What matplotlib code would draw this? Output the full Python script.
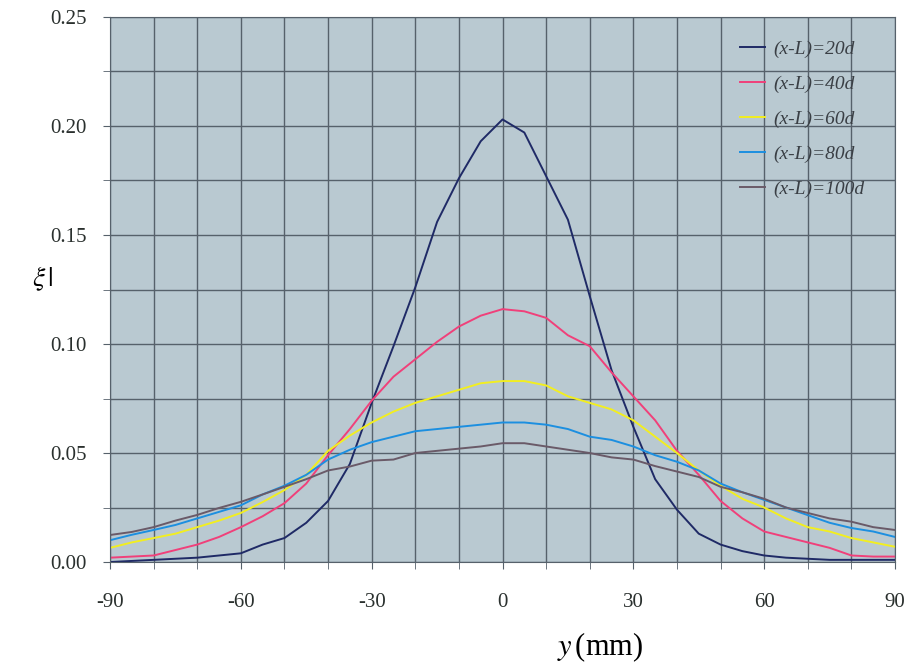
import numpy as np
import matplotlib.pyplot as plt

plt.rcParams['mathtext.fontset'] = 'stix'
plt.rcParams['axes.unicode_minus'] = False

y_mm = np.arange(-90, 95, 5)

xi_20d = [0.000, 0.0005, 0.001, 0.0015, 0.002, 0.003, 0.004, 0.008, 0.011, 0.018,
          0.028, 0.045, 0.073, 0.099, 0.126, 0.156, 0.176, 0.193, 0.203, 0.197,
          0.177, 0.157, 0.122, 0.088, 0.062, 0.038, 0.024, 0.013, 0.008, 0.005,
          0.003, 0.002, 0.0015, 0.001, 0.001, 0.001, 0.001]
xi_40d = [0.002, 0.0025, 0.003, 0.0055, 0.008, 0.0115, 0.016, 0.021, 0.027, 0.036,
          0.049, 0.061, 0.074, 0.085, 0.093, 0.101, 0.108, 0.113, 0.116, 0.115,
          0.112, 0.104, 0.099, 0.087, 0.076, 0.065, 0.051, 0.040, 0.028, 0.020,
          0.014, 0.0115, 0.009, 0.0065, 0.003, 0.0025, 0.0025]
xi_60d = [0.0065, 0.009, 0.011, 0.013, 0.016, 0.019, 0.0225, 0.0275, 0.033, 0.040,
          0.051, 0.058, 0.064, 0.069, 0.073, 0.076, 0.079, 0.082, 0.083, 0.083,
          0.081, 0.076, 0.073, 0.070, 0.065, 0.0575, 0.050, 0.042, 0.035, 0.029,
          0.025, 0.020, 0.016, 0.014, 0.011, 0.009, 0.007]
xi_80d = [0.010, 0.0125, 0.0147, 0.017, 0.020, 0.023, 0.026, 0.031, 0.035, 0.040,
          0.047, 0.0515, 0.055, 0.0575, 0.060, 0.061, 0.062, 0.063, 0.064, 0.064,
          0.063, 0.061, 0.0575, 0.056, 0.053, 0.049, 0.046, 0.042, 0.036, 0.032,
          0.0285, 0.025, 0.0215, 0.018, 0.0156, 0.014, 0.0115]
xi_100d = [0.0124, 0.0138, 0.016, 0.019, 0.0216, 0.0248, 0.0276, 0.031, 0.0345, 0.038,
           0.042, 0.0438, 0.0465, 0.047, 0.050, 0.051, 0.052, 0.053, 0.0545, 0.0545,
           0.053, 0.0515, 0.050, 0.048, 0.047, 0.044, 0.0415, 0.039, 0.0345, 0.032,
           0.029, 0.025, 0.0225, 0.020, 0.0185, 0.016, 0.0147]

labels = ['(x-L)=20d', '(x-L)=40d', '(x-L)=60d', '(x-L)=80d', '(x-L)=100d']
colors = ['#1f2a66', '#f0407a', '#f2ee20', '#1c8fe0', '#6a5a68']

fig = plt.figure(figsize=(9.06, 6.71), dpi=100)
ax = fig.add_axes([0.1214, 0.1624, 0.8665, 0.8123])
ax.set_facecolor('#b9c9d1')

for vals, lab, c in zip([xi_20d, xi_40d, xi_60d, xi_80d, xi_100d], labels, colors):
    ax.plot(y_mm, vals, color=c, lw=1.4, label=lab)

ax.set_xlim(-90, 90)
ax.set_ylim(0, 0.25)
ax.set_xticks(np.arange(-90, 91, 10), minor=True)
ax.set_xticks(np.arange(-90, 91, 30))
ax.set_yticks(np.arange(0, 0.251, 0.025), minor=True)
ax.set_yticks(np.arange(0, 0.251, 0.05))
ax.set_yticklabels(['%.2f' % v for v in np.arange(0, 0.251, 0.05)])
ax.grid(True, which='both', color='#56616b', lw=1.0)
ax.set_axisbelow(True)

for lbl in ax.get_xticklabels() + ax.get_yticklabels():
    lbl.set_family('Liberation Serif')
    lbl.set_fontsize(15)
    lbl.set_color('#2a302e')
ax.tick_params(axis='x', which='both', length=5, pad=17, color='#56616b')
ax.tick_params(axis='y', which='both', length=5, pad=12, color='#56616b')
for s in ax.spines.values():
    s.set_color('#56616b')

ax.set_xlabel(r'$y\,$(mm)', fontsize=22, family='Liberation Serif')
ax.xaxis.set_label_coords(0.624, -0.125)
ax.set_ylabel(r'$\xi\,|$', fontsize=20, rotation=0, va='center')
ax.yaxis.set_label_coords(-0.085, 0.52)

leg = ax.legend(loc='upper left', bbox_to_anchor=(0.78, 0.99), frameon=False,
                handlelength=1.3, handletextpad=0.4, labelspacing=0.9,
                prop={'family': 'Liberation Serif', 'style': 'italic', 'size': 14})
for t in leg.get_texts():
    t.set_color('#3a3f45')

plt.savefig('out.png')
